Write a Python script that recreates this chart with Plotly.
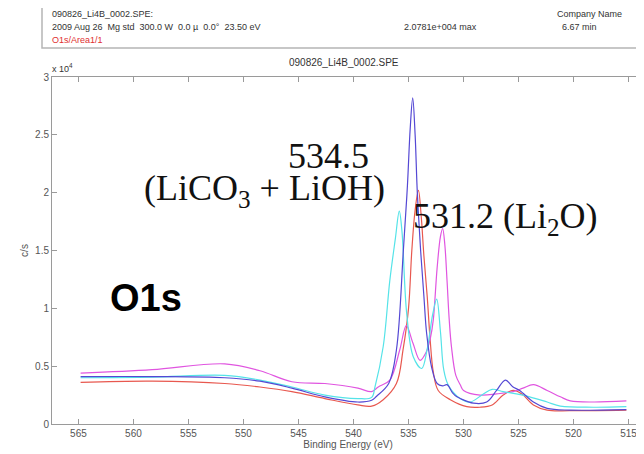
import plotly.graph_objects as go

# O1s spectra, binding energy (eV) vs counts per second
blue_e = [564.8, 558.3, 551.7, 548.5, 545.6, 542.6, 539.6, 538.35, 537.9, 536.8, 536.1,
          535.47, 535.1, 534.85, 534.62, 534.4, 534.2, 533.9, 533.6, 533.35, 532.9, 532.4,
          531.9, 531.5, 531.0, 530.6, 530.3, 529.1, 527.9, 527.0, 526.2, 525.5, 524.9,
          523.65, 522.4, 520.3, 515.2]
blue_i = [4100, 4100, 4000, 3700, 3100, 2350, 1900, 2050, 2400, 3500, 6400,
          15000, 20600, 25500, 28200, 25000, 20000, 15000, 11000, 7800, 4900, 3500,
          3300, 3400, 2700, 2350, 2200, 1800, 1900, 2900, 3800, 3200, 2900,
          1900, 1350, 1200, 1250]

red_e = [564.8, 558.3, 551.7, 548.5, 545.6, 542.6, 539.6, 538.35, 537.3, 536.1, 535.5,
         535.0, 534.7, 534.4, 534.1, 533.85, 533.6, 533.3, 533.05, 532.75, 532.3, 531.2,
         529.7, 528.5, 527.4, 526.4, 525.5, 524.7, 523.65, 522.4, 520.3, 515.2]
red_i = [3600, 3700, 3500, 3200, 2800, 2200, 1650, 1550, 2100, 3500, 6400,
         10000, 15000, 18500, 20200, 18000, 14500, 11000, 7500, 4500, 2900, 2100,
         1500, 1450, 1650, 2500, 2900, 2600, 1650, 1200, 1150, 1200]

cyan_e = [564.8, 558.3, 551.7, 548.5, 545.6, 542.6, 539.6, 538.35, 538.05, 537.3, 536.7,
          536.2, 535.84, 535.6, 535.16, 534.56, 533.8, 533.3, 532.8, 532.44, 532.1, 531.8,
          531.4, 530.3, 529.4, 528.2, 527.4, 526.4, 525.2, 524.0, 522.4, 521.2, 518.2, 515.2]
cyan_i = [4000, 4050, 4200, 3800, 3200, 2500, 2200, 2300, 3200, 6700, 12400,
          16000, 18400, 16700, 9500, 5800, 4800, 6500, 9500, 10800, 8000, 4700,
          3400, 2200, 1900, 2600, 3000, 2800, 2600, 2350, 1900, 1550, 1450, 1500]

magenta_e = [564.8, 558.3, 551.7, 548.5, 545.6, 542.6, 539.6, 538.35, 537.75, 536.7, 535.8,
             535.2, 534.6, 533.95, 533.4, 533.0, 532.75, 532.4, 532.1, 531.9, 531.7, 531.5,
             531.3, 531.1, 530.7, 530.3, 530.0, 528.5, 527.0, 525.5, 524.6, 523.65, 522.4,
             521.2, 520.3, 518.2, 515.2]
magenta_i = [4400, 4700, 5200, 4600, 3650, 3500, 3100, 2800, 3200, 3800, 6400,
             8500, 7000, 5500, 6200, 7500, 9000, 13500, 16200, 16900, 15500, 12400,
             9000, 6700, 4200, 3400, 2900, 2500, 2600, 2800, 3100, 3400, 2900,
             2350, 2000, 1900, 2000]

x_ticks = [565, 560, 555, 550, 545, 540, 535, 530, 525, 520, 515]
y_ticks = [0, 5000, 10000, 15000, 20000, 25000, 30000]
y_labels = ["0", "0.5", "1", "1.5", "2", "2.5", "3"]

# the page body adds an 8px margin, so the figure is 8px smaller and margins shifted
OFF = 8
W, H = 644 - OFF, 454 - OFF
L, R, T, B = 52 - OFF, 0, 77 - OFF, 30
PW, PH = W - L - R, H - T - B


def px(x):
    # page pixel -> paper fraction
    return (x - 52) / PW


def py(y):
    return (424 - y) / PH


fig = go.Figure()
for e, i, c in [(red_e, red_i, "#e8584f"), (magenta_e, magenta_i, "#e055e0"),
                (cyan_e, cyan_i, "#55e3e8"), (blue_e, blue_i, "#5448d4")]:
    fig.add_trace(go.Scatter(x=e, y=i, mode="lines", line=dict(color=c, width=1.2, shape="spline"),
                             showlegend=False))

axis_common = dict(showline=True, mirror="ticks", linecolor="#9a9a9a", linewidth=1,
                   ticks="inside", ticklen=5, tickcolor="#9a9a9a", showgrid=False, zeroline=False,
                   tickfont=dict(family="Arial, Liberation Sans", size=10, color="#555"))
fig.update_xaxes(range=[567.4, 513.6], tickvals=x_ticks,
                 title=dict(text="Binding Energy (eV)", standoff=2,
                            font=dict(family="Arial, Liberation Sans", size=10, color="#555")),
                 **axis_common)
fig.update_yaxes(range=[0, 30000], tickvals=y_ticks, ticktext=y_labels,
                 title=dict(text="c/s", standoff=4,
                            font=dict(family="Arial, Liberation Sans", size=10, color="#555")),
                 **axis_common)

small = dict(family="Arial, Liberation Sans", size=9, color="#333")
serif = dict(family="Liberation Serif, Times New Roman", size=36, color="#111")
notes = [
    (50, 14, "090826_Li4B_0002.SPE:", "left", small),
    (50, 27, "2009 Aug 26  Mg std  300.0 W  0.0 \u00b5  0.0\u00b0  23.50 eV", "left", small),
    (50, 40, "O1s/Area1/1", "left", dict(small, color="#e03030")),
    (402, 27, "2.0781e+004 max", "left", small),
    (555, 14, "Company Name", "left", small),
    (560, 27, "6.67 min", "left", small),
    (344, 63, "090826_Li4B_0002.SPE", "center", dict(small, size=10)),
    (50, 68, "x 10<sup>4</sup>", "left", small),
    (328, 156, "534.5", "center", serif),
    (264, 190, "(LiCO<sub>3</sub> + LiOH)", "center", serif),
    (411, 218, "531.2 (Li<sub>2</sub>O)", "left", serif),
    (108, 298, "<b>O1s</b>", "left", dict(family="Arial, Liberation Sans", size=38, color="#000")),
]
for x, y, t, a, f in notes:
    fig.add_annotation(x=px(x), y=py(y), xref="paper", yref="paper", text=t, showarrow=False,
                       xanchor=a, yanchor="middle", font=f)

fig.add_shape(type="rect", xref="paper", yref="paper", x0=px(42), x1=px(660), y0=py(48), y1=py(5),
              line=dict(color="#b5b5b5", width=1.5), fillcolor="rgba(0,0,0,0)")

fig.update_layout(width=W, height=H, margin=dict(l=L, r=R, t=T, b=B),
                  paper_bgcolor="white", plot_bgcolor="white")
fig.write_html("out.html")
